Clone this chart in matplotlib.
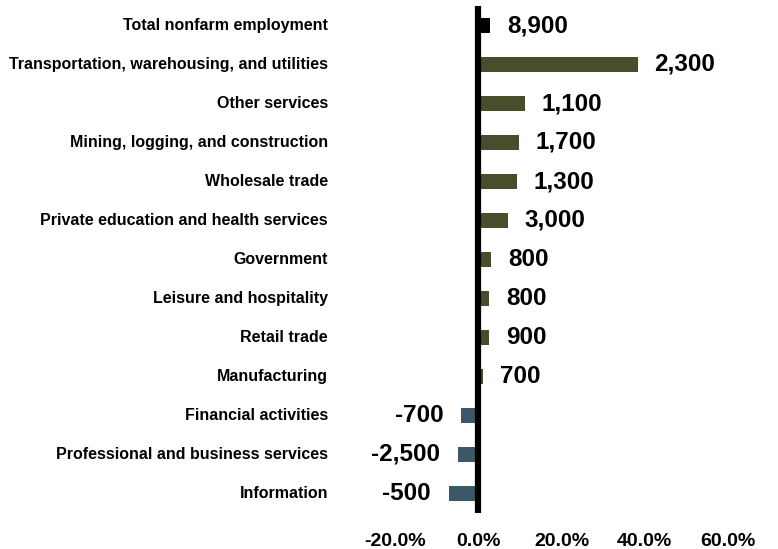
import matplotlib
matplotlib.use("Agg")
import matplotlib.pyplot as plt

# rows listed top to bottom
industries = [
    "Total nonfarm employment",
    "Transportation, warehousing, and utilities",
    "Other services",
    "Mining, logging, and construction",
    "Wholesale trade",
    "Private education and health services",
    "Government",
    "Leisure and hospitality",
    "Retail trade",
    "Manufacturing",
    "Financial activities",
    "Professional and business services",
    "Information",
]
pct_change = [2.9, 38.3, 11.3, 9.8, 9.2, 7.2, 3.1, 2.7, 2.6, 1.2, -4.1, -4.8, -7.0]
job_change = ["8,900", "2,300", "1,100", "1,700", "1,300", "3,000", "800",
              "800", "900", "700", "-700", "-2,500", "-500"]
xticks = [-20, 0, 20, 40, 60]

POS_COLOR = "#4a4d2b"
NEG_COLOR = "#3a5865"
TOTAL_COLOR = "#000000"

plt.rcParams["font.family"] = ["Liberation Sans", "DejaVu Sans"]
plt.rcParams["font.weight"] = "bold"

fig = plt.figure(figsize=(7.78, 5.49), dpi=100)
ax = fig.add_axes([395 / 778, 1 - 513 / 549, 333 / 778, 507 / 549])

n = len(industries)
ypos = list(range(n - 1, -1, -1))
colors = []
for i, v in enumerate(pct_change):
    if i == 0:
        colors.append(TOTAL_COLOR)
    elif v >= 0:
        colors.append(POS_COLOR)
    else:
        colors.append(NEG_COLOR)

ax.barh(ypos, pct_change, height=0.36, color=colors, zorder=2)

for y, v, lab in zip(ypos, pct_change, job_change):
    if v >= 0:
        ax.annotate(lab, (v, y), xytext=(12, 0), textcoords="offset points",
                    ha="left", va="center", fontsize=17.5, fontweight="bold")
    else:
        ax.annotate(lab, (v, y), xytext=(-13, 0), textcoords="offset points",
                    ha="right", va="center", fontsize=17.5, fontweight="bold")

ax.axvline(0, color="black", lw=4.5, zorder=3)

ax.set_xlim(-20, 60)
ax.set_ylim(-0.5, n - 0.5)
ax.set_xticks(xticks)
ax.set_xticklabels([f"{t:.1f}%" for t in xticks], fontsize=14, fontweight="bold")
ax.tick_params(axis="x", length=0, pad=14.5)
ax.set_yticks([])

for s in ax.spines.values():
    s.set_visible(False)

# category labels, right aligned left of the plot area
for y, name in zip(ypos, industries):
    ax.annotate(name, (0, y), xycoords=("figure fraction", "data"),
                xytext=(328, 0), textcoords="offset pixels",
                ha="right", va="center", fontsize=11.5, fontweight="bold")

fig.savefig("out.png", dpi=100)
